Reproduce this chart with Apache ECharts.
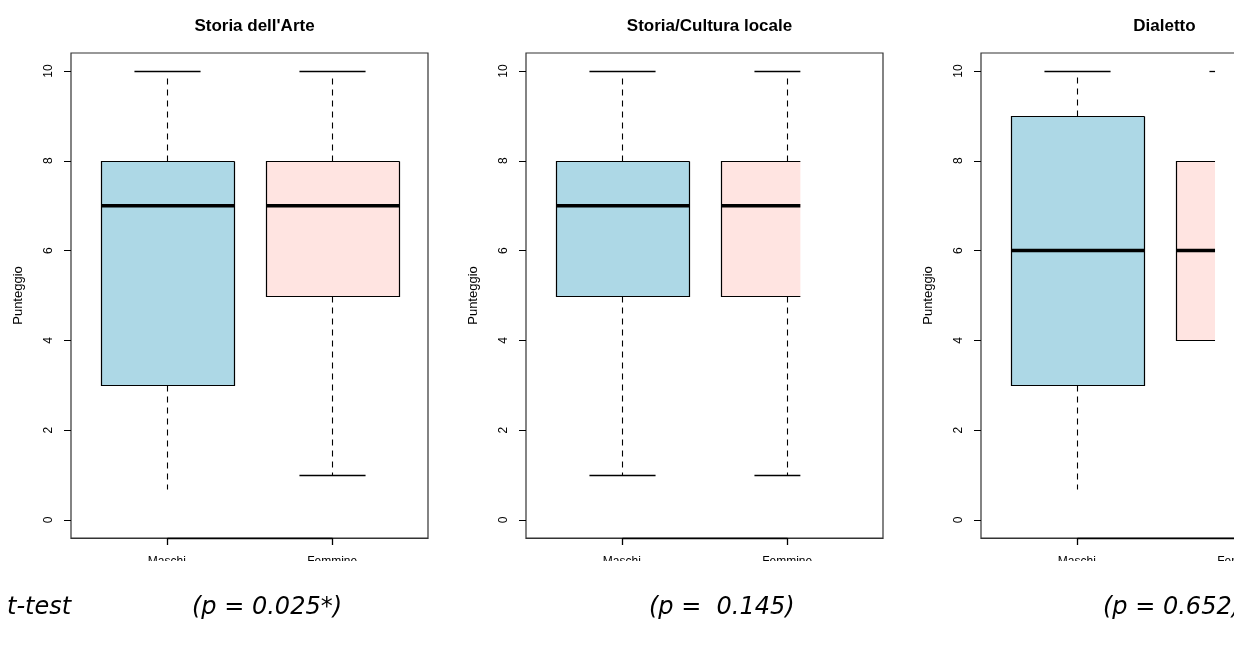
<!DOCTYPE html>
<html>
<head>
<meta charset="utf-8">
<script src="https://cdn.jsdelivr.net/npm/echarts@6/dist/echarts.min.js"></script>
<style>
html,body{margin:0;padding:0;background:#fff;overflow:hidden;width:1234px;height:649px;}
#main{width:1370px;height:649px;}
</style>
</head>
<body>
<div id="main"></div>
<script>
// ---------------- data ----------------
const categories = ['Maschi', 'Femmine'];
const panelTitles = ["Storia dell'Arte", 'Storia/Cultura locale', 'Dialetto'];
// box stats per panel: [lower whisker, Q1, median, Q3, upper whisker]
const maschiStats = [
  [0.7, 3, 7, 8, 10],
  [1, 5, 7, 8, 10],
  [0.7, 3, 6, 9, 10]
];
const femmineStats = [
  [1, 5, 7, 8, 10],
  [1, 5, 7, 8, 10],
  [1, 4, 6, 8, 10]
];
// whether the lower whisker cap is drawn [Maschi, Femmine]
const lowCapShown = [
  [false, true],
  [true, true],
  [false, false]
];
const yTicks = [0, 2, 4, 6, 8, 10];
const xTicks = [1, 2];
const yAxisName = 'Punteggio';
const testLabel = 't-test';
const pLabels = ['(p = 0.025*)', '(p =  0.145)', '(p = 0.652)'];

// ---------------- layout / style ----------------
const gridLefts = [71, 526, 981];
const gridTop = 53, gridHeight = 485, gridWidth = 357;
const xMin = 0.42, xMax = 2.58, yMin = -0.4, yMax = 10.4;
const boxColors = ['#ADD8E6', '#FFE4E1'];
const femmineClip = [Infinity, 2.08, 1.836]; // visible right limit (x units)
const pLabelX = [192, 649, 1103];
const textTop = 596;

const chart = echarts.init(document.getElementById('main'), null, {renderer: 'canvas'});

const px = v => Math.round(v) + 0.5;

function makeRender(panel) {
  return function (params, api) {
    const x = api.value(0);
    const low = api.value(1), q1 = api.value(2), med = api.value(3), q3 = api.value(4), high = api.value(5);
    const ci = api.value(6);
    const capLow = api.value(7) === 1;
    const clipVal = ci === 1 ? femmineClip[panel] : Infinity;
    const halfW = api.size([0.8, 0])[0] / 2;
    const capHalf = halfW / 2;
    const cx = px(api.coord([x, med])[0]);
    const yOf = v => px(api.coord([x, v])[1]);
    const clipPx = isFinite(clipVal) ? api.coord([clipVal, 0])[0] : Infinity;
    const L = px(cx - halfW), R = Math.min(px(cx + halfW), clipPx);
    const yT = yOf(q3), yB = yOf(q1), yM = api.coord([x, med])[1];
    const children = [];
    const ln = (x1, y1, x2, y2, w, dash) => ({
      type: 'line',
      shape: {x1: x1, y1: y1, x2: x2, y2: y2},
      style: {stroke: '#000', lineWidth: w, lineDash: dash || null}
    });
    // whiskers
    if (cx < clipPx) {
      children.push(ln(cx, yT, cx, yOf(high) + 4, 1.1, [6, 5]));
      children.push(ln(cx, yB, cx, yOf(low), 1.1, [6, 5]));
    }
    // caps
    if (cx - capHalf < clipPx) {
      const cr = Math.min(cx + capHalf, clipPx);
      children.push(ln(cx - capHalf, yOf(high), cr, yOf(high), 1.3));
      if (capLow) children.push(ln(cx - capHalf, yOf(low), cr, yOf(low), 1.3));
    }
    // box fill
    children.push({
      type: 'rect',
      shape: {x: L, y: yT, width: R - L, height: yB - yT},
      style: {fill: boxColors[ci], stroke: null}
    });
    // box border
    const pts = [[R, yT], [L, yT], [L, yB], [R, yB]];
    if (cx + halfW <= clipPx) pts.push([R, yT]);
    children.push({
      type: 'polyline',
      shape: {points: pts},
      style: {stroke: '#000', lineWidth: 1.2, fill: null}
    });
    // median
    children.push(ln(L, yM, R, yM, 3.5));
    // x axis segment between ticks
    if (x === 1) {
      const a = api.coord([1, yMin]), b = api.coord([2, yMin]);
      children.push(ln(px(a[0]), px(a[1]), px(b[0]), px(b[1]), 1.3));
    }
    return {type: 'group', children: children};
  };
}

const grids = [], xAxes = [], yAxes = [], series = [], titles = [];
for (let p = 0; p < 3; p++) {
  grids.push({
    left: gridLefts[p], top: gridTop, width: gridWidth, height: gridHeight,
    show: true, borderColor: '#333', borderWidth: 1.2, backgroundColor: 'transparent'
  });
  xAxes.push({
    type: 'value', gridIndex: p, min: xMin, max: xMax, position: 'bottom',
    splitLine: {show: false},
    axisLine: {show: true, onZero: false, lineStyle: {color: '#333', width: 1.2}},
    axisTick: {show: true, customValues: xTicks, length: 7, inside: false, lineStyle: {color: '#000', width: 1.3}},
    axisLabel: {
      show: true, customValues: xTicks, margin: 18,
      formatter: v => categories[Math.round(v) - 1],
      fontFamily: 'Liberation Sans', fontSize: 12, color: '#000'
    }
  });
  yAxes.push({
    type: 'value', gridIndex: p, min: yMin, max: yMax, position: 'left',
    splitLine: {show: false},
    axisLine: {show: false, onZero: false},
    axisTick: {show: true, customValues: yTicks, length: 7, lineStyle: {color: '#000', width: 1}},
    axisLabel: {
      show: true, customValues: yTicks, rotate: 90, margin: 16,
      fontFamily: 'Liberation Sans', fontSize: 12, color: '#000'
    },
    name: yAxisName, nameLocation: 'middle', nameGap: 46, nameRotate: 90,
    nameTextStyle: {fontFamily: 'Liberation Sans', fontSize: 13, color: '#000'}
  });
  const data = [
    [1].concat(maschiStats[p], [0, lowCapShown[p][0] ? 1 : 0]),
    [2].concat(femmineStats[p], [1, lowCapShown[p][1] ? 1 : 0])
  ];
  series.push({
    type: 'custom', xAxisIndex: p, yAxisIndex: p,
    renderItem: makeRender(p),
    encode: {x: 0, y: [1, 2, 3, 4, 5]},
    data: data, clip: false, silent: true, animation: false
  });
  titles.push({
    text: panelTitles[p],
    left: gridLefts[p] + gridWidth / 2, top: 13, textAlign: 'center',
    textStyle: {fontFamily: 'Liberation Sans', fontWeight: 'bold', fontSize: 17, color: '#000'}
  });
}

const graphics = [
  // cover lower part of x labels (as in the reference where labels are cut)
  {type: 'rect', left: 0, top: 561, shape: {width: 1370, height: 20}, style: {fill: '#fff'}, z: 100},
  {type: 'text', left: 7, top: textTop, z: 101,
   style: {text: testLabel, fontFamily: 'DejaVu Sans', fontStyle: 'italic', fontSize: 24, fill: '#000'}}
];
for (let i = 0; i < pLabels.length; i++) {
  graphics.push({type: 'text', left: pLabelX[i], top: textTop, z: 101,
    style: {text: pLabels[i], fontFamily: 'DejaVu Sans', fontStyle: 'italic', fontSize: 24, fill: '#000'}});
}

chart.setOption({
  animation: false,
  backgroundColor: '#fff',
  title: titles,
  grid: grids,
  xAxis: xAxes,
  yAxis: yAxes,
  series: series,
  graphic: graphics
});
</script>
</body>
</html>
